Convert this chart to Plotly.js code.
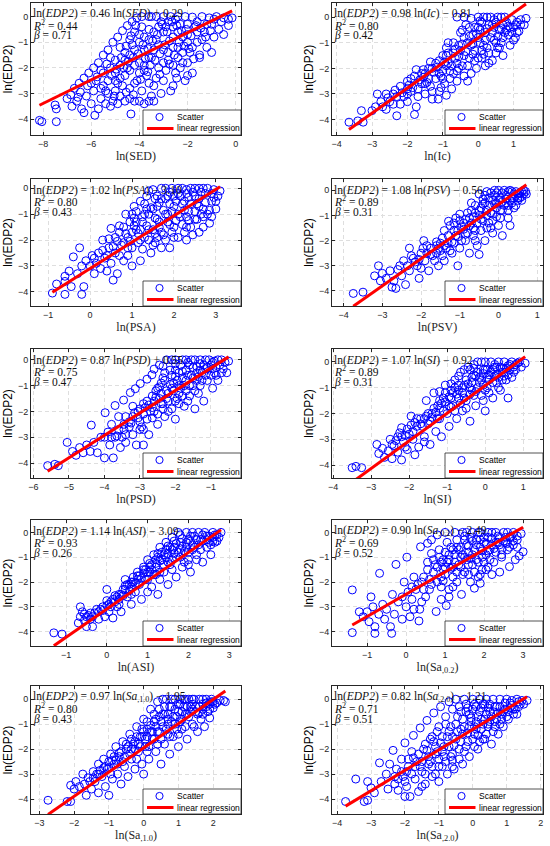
<!DOCTYPE html>
<html><head><meta charset="utf-8">
<script src="https://cdn.plot.ly/plotly-3.0.1.min.js"></script>
<style>html,body{margin:0;padding:0;background:#fff}#chart{width:550px;height:846px}</style>
</head><body><div id="chart"></div>
<script>
// ---------- data ----------
const SED = [[-8.15,-4.05],[-8.05,-4.1],[-7.45,-4.1],[-7.5,-3.45],[-7.45,-3.6],[-4.35,-3.8],[-5.85,-3.85],
[-7.0,-3.2],[-6.8,-3.5],[-6.6,-3.3],[-6.4,-3.6],[-6.3,-3.75],[-6.2,-3.1],[-6.0,-3.4],[-5.9,-2.9],[-5.7,-3.6],[-5.6,-3.2],[-5.5,-2.7],[-5.4,-3.4],[-5.3,-3.0],[-5.2,-3.5],[-5.1,-3.3],[-5.0,-2.9],[-4.9,-3.4],[-4.8,-3.1],[-4.6,-3.3],[-4.4,-3.2],[-4.2,-3.3],[-4.0,-3.3],[-3.8,-3.4],[-3.6,-3.3],[-3.4,-3.3],[-3.5,-3.1],
[-6.7,-2.8],[-6.5,-2.6],[-6.3,-2.4],[-6.1,-2.2],[-5.9,-2.0],[-5.7,-1.8],[-5.5,-1.5],[-5.3,-1.3],[-5.1,-1.0],[-4.9,-0.8],[-4.7,-0.55],[-4.5,-0.35],[-4.3,-0.2],[-4.1,-0.05],[-3.9,0],[-3.6,0],[-3.3,0],[-3.0,0],[-2.7,0],[-2.4,0],[-2.1,0],[-1.8,-0.02],[-1.4,0],[-1.1,-0.05],[-0.8,0],[-0.5,-0.05],[-0.3,-0.1],[-0.15,-0.05],
[-5.8,-2.5],[-5.5,-2.2],[-5.2,-2.0],[-5.0,-1.7],[-4.8,-2.4],[-4.6,-1.4],[-4.5,-2.0],[-4.3,-1.1],[-4.2,-2.6],[-4.0,-0.7],[-4.0,-1.8],[-3.8,-1.3],[-3.7,-2.3],[-3.6,-0.5],[-3.5,-1.6],[-3.4,-2.7],[-3.3,-0.9],[-3.2,-2.0],[-3.0,-1.3],[-3.0,-2.5],[-2.9,-0.4],[-2.8,-1.7],[-2.7,-2.9],[-2.6,-0.8],[-2.5,-2.2],[-2.4,-1.2],[-2.3,-0.3],[-2.2,-1.8],[-2.1,-2.5],[-2.0,-0.7],[-1.9,-1.4],[-1.8,-2.2],[-1.7,-0.4],[-1.6,-1.0],[-1.5,-1.6],[-1.3,-0.6],[-1.2,-1.2],[-1.0,-0.3],[-1.0,-1.4],[-0.9,-0.8],[-0.7,-0.5],[-0.5,-0.7],[-0.3,-0.35],[-4.7,-2.7],[-5.0,-2.5],[-3.9,-2.9],[-3.1,-3.0],[-2.6,-2.7],[-2.0,-2.3],[-1.5,-1.5],
[-5.6,-2.8],[-5.3,-2.5],[-5.0,-2.2],[-4.8,-1.9],[-4.6,-1.7],[-4.4,-1.5],[-4.2,-1.3],[-4.0,-1.0],[-3.8,-0.8],[-3.6,-0.9],[-3.4,-0.6],[-3.2,-0.4],[-3.0,-0.6],[-2.8,-0.2],[-2.6,-0.4],[-2.4,-0.6],[-2.2,-0.8],[-2.0,-1.0],[-1.8,-1.2],[-1.6,-0.6],[-1.4,-0.9],[-1.2,-0.3],[-4.6,-2.3],[-4.4,-2.1],[-4.2,-1.9],[-4.0,-2.2],[-3.8,-1.9],[-3.6,-1.6],[-3.4,-1.3],[-3.2,-1.1],[-3.0,-1.8],[-2.8,-1.4],[-2.6,-1.2],[-2.4,-1.6],[-2.2,-1.4],[-2.0,-1.8],[-3.6,-2.6],[-3.3,-2.4],[-2.9,-2.1],[-2.6,-1.9],[-2.3,-2.0],[-4.4,-2.8],[-4.1,-2.5],[-3.8,-2.1],[-5.4,-2.9],[-4.9,-2.6],[-3.5,0],[-3.1,-0.2],[-2.5,-0.1],[-2.0,-0.3],[-1.6,-0.2],[-0.6,-0.2],[-0.9,-0.1],[-3.9,-0.4],[-4.2,-0.6],[-4.4,-0.9],[-4.8,-1.2],[-5.2,-1.6],[-5.6,-2.1],[-6.0,-2.6]];
const SED_core = [[-4.95,-2.05],[-4.75,-1.6],[-4.55,-1.15],[-4.35,-0.75],[-4.15,-0.35],[-4.65,-2.0],[-4.45,-1.75],[-4.25,-1.6],[-4.05,-1.45],[-3.85,-1.1],[-3.65,-1.25],[-3.45,-0.95],[-3.25,-0.7],[-3.05,-0.3],[-2.85,-0.6],[-2.65,-0.2],[-2.45,-0.35],[-2.25,-0.55],[-2.05,-0.5],[-1.85,-0.75],[-1.65,-0.35],[-1.45,-0.45],[-1.25,-0.8],[-1.05,-0.55],[-3.75,-1.65],[-3.55,-1.9],[-3.35,-1.7],[-3.15,-1.45],[-2.95,-1.1],[-2.75,-0.95],[-2.55,-1.5],[-2.35,-1.0],[-2.15,-1.15],[-1.95,-1.25],[-3.95,-2.45],[-3.65,-2.15],[-3.15,-2.25],[-2.75,-1.85],[-2.45,-2.4],[-1.75,-1.65],[-5.15,-2.3],[-5.35,-1.85],[-5.75,-2.35],[-6.15,-2.7],[-6.45,-2.95],[-6.55,-3.15],[-6.85,-3.05],[-5.05,-3.1],[-4.55,-2.95],[-4.25,-3.05]];

const IC = [[-3.65,-4.1],[-3.4,-4.05],[-3.25,-4.1],[-3.3,-3.65],[-3.0,-3.65],[-2.9,-3.5],[-2.75,-3.3],[-2.85,-3.0],[-2.6,-3.6],[-2.5,-3.3],[-2.4,-3.0],[-2.3,-3.85],[-2.2,-3.4],[-2.2,-2.7],[-2.1,-3.1],[-2.0,-2.5],[-1.9,-2.9],[-1.8,-3.8],[-1.8,-2.3],[-1.75,-3.5],[-1.7,-3.1],[-1.6,-2.6],[-1.5,-2.2],[-1.5,-3.0],[-1.4,-2.0],[-1.35,-2.7],[-1.3,-3.2],[-1.2,-1.8],[-1.2,-2.4],[-1.1,-2.9],[-1.0,-1.5],[-1.0,-2.1],[-0.95,-2.6],[-0.9,-1.2],[-0.85,-1.8],[-0.8,-2.4],[-0.75,-2.8],[-0.7,-1.0],[-0.65,-1.6],[-0.6,-2.1],[-0.5,-0.6],[-0.5,-1.3],[-0.45,-1.9],[-0.4,-2.3],[-0.35,-0.3],[-0.3,-1.0],[-0.25,-1.6],[-0.2,-0.05],[-0.15,-0.7],[-0.1,-1.3],[-0.05,-2.0],[0.0,0],[0.0,-0.4],[0.05,-1.0],[0.1,-1.6],[0.15,0],[0.2,-0.6],[0.25,-1.2],[0.3,-1.8],[0.35,0],[0.4,-0.3],[0.45,-0.9],[0.5,-1.4],[0.55,0],[0.6,-0.5],[0.65,-1.0],[0.7,-1.5],[0.75,0],[0.8,-0.2],[0.85,-0.7],[0.9,-1.1],[0.95,-0.1],[1.0,-0.4],[1.05,-0.8],[1.1,-0.2],[1.15,-0.55],[1.2,-0.1],[1.3,-0.3],[1.35,-0.05],[-1.13,-3.2],[-0.9,-3.05],[-1.55,-2.35],[-2.0,-3.3],[-2.6,-3.0],[-0.6,-2.5],[0.2,-1.9],[-0.2,-2.2],
[-2.7,-3.5],[-2.4,-3.4],[-2.3,-3.1],[-2.0,-2.8],[-1.9,-2.4],[-1.7,-2.8],[-1.6,-2.2],[-1.4,-2.4],[-1.3,-2.0],[-1.1,-2.2],[-1.1,-1.7],[-0.9,-1.9],[-0.9,-1.5],[-0.8,-2.1],[-0.7,-1.4],[-0.6,-1.8],[-0.55,-1.1],[-0.4,-1.5],[-0.4,-0.8],[-0.3,-1.9],[-0.2,-1.1],[-0.1,-0.4],[-0.1,-1.7],[0.0,-0.8],[0.1,-0.2],[0.1,-1.3],[0.2,-0.9],[0.3,-0.3],[0.3,-1.4],[0.4,-0.6],[0.5,-1.0],[0.5,-0.2],[0.6,-1.2],[0.7,-0.3],[0.7,-0.8],[0.8,-0.5],[0.9,-0.4],[1.0,-0.9],[1.1,-0.6],[1.2,-0.3],[-1.5,-2.6],[-1.0,-2.4],[-0.3,-2.5],[0.0,-1.6],[0.4,-1.7],[-0.6,0],[-0.4,0],[0.25,0],[0.65,0],[-2.0,-3.0],[-1.3,-2.9],[-0.7,-2.2]];
const IC_core = [[-2.55,-3.15],[-2.35,-2.85],[-2.15,-2.95],[-1.95,-2.65],[-1.85,-2.75],[-1.65,-2.45],[-1.55,-2.05],[-1.45,-2.55],[-1.25,-2.15],[-1.15,-1.95],[-1.05,-2.3],[-0.95,-1.75],[-0.85,-1.4],[-0.75,-1.9],[-0.65,-1.25],[-0.55,-1.55],[-0.45,-1.05],[-0.35,-1.35],[-0.25,-0.75],[-0.15,-1.05],[-0.05,-0.65],[0.05,-0.5],[0.15,-1.1],[0.25,-0.45],[0.35,-0.8],[0.45,-0.4],[0.55,-0.75],[0.65,-0.45],[0.75,-0.6],[0.85,-0.35],[0.95,-0.6],[1.05,-0.3],[-0.25,-0.4],[0.05,-0.15],[0.45,-0.1],[-0.45,-0.5],[-0.85,-1.0],[-1.35,-1.75],[-1.75,-2.05],[-0.15,-1.45],[0.15,-1.45],[0.55,-1.2],[-0.55,-2.0],[-1.05,-2.75]];

const PSA = [[-0.9,-4.05],[-0.6,-4.1],[-0.2,-4.1],[-0.8,-3.7],[-0.6,-3.4],[-0.5,-3.2],[-0.6,-3.6],[-0.45,-3.8],[-0.4,-2.65],[-0.3,-3.3],[-0.25,-2.3],[-0.2,-3.0],[-0.15,-3.8],[-0.1,-2.8],[0.0,-3.0],[0.05,-2.6],[0.1,-3.3],[0.15,-2.9],[0.2,-2.5],[0.25,-3.1],[0.3,-2.0],[0.35,-2.7],[0.4,-3.2],[0.45,-2.3],[0.5,-1.55],[0.5,-2.9],[0.55,-3.55],[0.6,-1.9],[0.6,-2.5],[0.65,-3.3],[0.7,-1.45],[0.75,-2.2],[0.8,-2.8],[0.85,-1.0],[0.9,-1.9],[0.9,-2.6],[0.95,-1.3],[1.0,-2.3],[1.0,-3.0],[1.05,-0.7],[1.1,-1.6],[1.15,-2.1],[1.2,-0.5],[1.2,-2.8],[1.25,-1.3],[1.3,-1.9],[1.35,-0.3],[1.4,-1.0],[1.45,-2.5],[1.5,-0.05],[1.5,-1.6],[1.55,-2.1],[1.6,-0.7],[1.65,-1.3],[1.7,0],[1.75,-1.8],[1.8,-0.4],[1.85,-1.0],[1.9,-2.3],[1.95,0],[2.0,-1.5],[2.0,-0.7],[2.1,-0.2],[2.1,-1.9],[2.15,-1.1],[2.2,0],[2.25,-0.5],[2.3,-1.5],[2.35,-0.9],[2.4,0],[2.45,-1.8],[2.5,-0.3],[2.55,-1.2],[2.6,0],[2.6,-0.7],[2.7,-1.5],[2.75,-0.2],[2.8,0],[2.8,-1.0],[2.85,-1.35],[2.9,-0.5],[2.95,-0.05],[3.0,-0.8],[3.05,-0.3],[3.1,-0.1],[2.3,-2.0],[1.7,-2.3],[2.6,-1.7],
[0.8,-2.1],[1.0,-1.7],[1.1,-1.3],[1.2,-2.0],[1.3,-1.0],[1.4,-1.6],[1.5,-0.8],[1.5,-2.2],[1.6,-1.2],[1.7,-0.4],[1.7,-1.7],[1.8,-1.0],[1.9,-0.6],[1.9,-1.4],[2.0,-0.3],[2.0,-1.9],[2.1,-1.0],[2.2,-0.6],[2.2,-1.4],[2.3,-0.2],[2.3,-1.1],[2.4,-0.6],[2.4,-1.5],[2.5,-0.9],[2.5,-1.2],[2.6,-0.4],[2.7,-0.8],[2.7,-1.1],[2.9,-0.2],[2.9,-1.1],[3.0,-0.5],[1.2,-1.6],[0.9,-2.3],[0.7,-2.6],[1.4,-2.0],[1.6,-1.9],[1.8,-2.0],[1.3,-0.6],[1.1,-0.9],[1.4,-0.1],[1.6,-0.3],[1.8,0],[2.1,0],[2.5,0],[2.7,0],[1.0,-1.0],[0.7,-1.7],[0.4,-2.6],[0.3,-2.4],[0.1,-2.7]];
const PSA_core = [[0.65,-2.05],[0.85,-1.75],[0.95,-2.05],[1.05,-1.45],[1.15,-1.75],[1.25,-1.1],[1.35,-1.45],[1.45,-0.75],[1.55,-1.15],[1.65,-0.55],[1.65,-1.5],[1.75,-0.85],[1.85,-0.3],[1.85,-1.3],[1.95,-0.9],[2.05,-0.5],[2.05,-1.25],[2.15,-0.3],[2.25,-0.85],[2.35,-0.35],[2.35,-1.25],[2.45,-0.15],[2.55,-0.6],[2.65,-0.15],[2.65,-1.0],[2.75,-0.55],[2.85,-0.85],[2.95,-0.35],[1.25,-2.35],[1.55,-1.75],[1.95,-1.7],[2.25,-1.7],[1.05,-1.15],[0.8,-1.5],[1.35,-0.8],[1.55,-0.4],[1.9,-0.15],[2.3,-0.05],[0.55,-2.25],[0.45,-1.95]];

const PSV = [[-3.75,-4.1],[-3.5,-4.05],[-3.1,-3.0],[-3.2,-3.4],[-3.05,-3.6],[-3.0,-3.3],[-2.9,-3.5],[-2.8,-3.2],[-2.75,-3.85],[-2.7,-3.6],[-2.6,-3.15],[-2.5,-3.4],[-2.45,-2.8],[-2.4,-3.75],[-2.3,-2.3],[-2.3,-3.2],[-2.2,-2.7],[-2.1,-3.0],[-2.05,-3.5],[-2.0,-2.5],[-1.9,-2.8],[-1.93,-2.0],[-1.8,-3.2],[-1.75,-2.3],[-1.7,-2.6],[-1.6,-2.05],[-1.55,-3.0],[-1.5,-2.4],[-1.4,-1.6],[-1.4,-2.8],[-1.3,-2.1],[-1.25,-1.4],[-1.2,-2.5],[-1.1,-1.8],[-1.05,-3.0],[-1.0,-1.2],[-1.0,-2.3],[-0.9,-1.55],[-0.85,-2.0],[-0.8,-0.9],[-0.75,-2.5],[-0.7,-1.3],[-0.65,-1.8],[-0.6,-0.6],[-0.55,-2.2],[-0.5,-1.0],[-0.45,-1.6],[-0.4,-0.35],[-0.35,-2.0],[-0.3,-0.8],[-0.25,-1.3],[-0.2,-0.1],[-0.15,-1.7],[-0.1,-0.55],[-0.05,-1.05],[0.0,0],[0.0,-1.4],[0.05,-0.3],[0.1,-0.8],[0.15,0],[0.2,-0.5],[0.25,-1.1],[0.3,0],[0.35,-0.3],[0.4,-0.7],[0.45,-0.05],[0.5,-0.4],[0.55,-0.1],[0.6,-0.25],[0.65,0],[0.7,-0.05],[0.72,-0.15],[-1.29,-1.23],[-1.6,-2.2],[-2.65,-3.9],[0.3,-1.4],[-0.5,-2.55],[0.1,-1.8],
[-2.35,-3.0],[-2.15,-2.85],[-2.0,-3.1],[-1.85,-2.5],[-1.65,-2.8],[-1.5,-2.1],[-1.45,-2.6],[-1.3,-1.8],[-1.25,-2.4],[-1.15,-2.1],[-1.05,-1.6],[-0.95,-2.0],[-0.9,-1.3],[-0.8,-1.7],[-0.75,-1.1],[-0.65,-1.5],[-0.6,-0.9],[-0.55,-1.3],[-0.45,-0.7],[-0.4,-1.2],[-0.35,-0.5],[-0.3,-1.5],[-0.25,-0.3],[-0.2,-0.9],[-0.15,-1.2],[-0.1,-0.2],[-0.05,-0.7],[0.0,-0.4],[0.05,-1.1],[0.1,-0.1],[0.15,-0.6],[0.2,-0.2],[0.25,-0.8],[0.3,-0.4],[0.35,-0.05],[0.4,-0.3],[0.45,-0.6],[0.5,-0.15],[0.55,-0.3],[0.6,-0.05],[-0.1,0],[-0.3,-0.05],[-0.5,-0.15],[-0.7,-0.5],[-1.0,-0.95],[-1.15,-1.3],[-1.6,-2.5],[-1.95,-2.3]];
const PSV_core = [[-2.55,-3.0],[-2.25,-2.6],[-2.05,-2.75],[-1.85,-2.2],[-1.75,-2.55],[-1.55,-2.3],[-1.45,-1.9],[-1.35,-2.3],[-1.2,-2.05],[-1.15,-1.6],[-1.05,-1.85],[-0.95,-1.45],[-0.85,-1.15],[-0.85,-1.75],[-0.75,-1.4],[-0.65,-1.05],[-0.6,-1.6],[-0.5,-0.8],[-0.45,-1.15],[-0.4,-0.55],[-0.3,-1.0],[-0.25,-0.6],[-0.15,-0.4],[-0.15,-0.95],[-0.05,-0.5],[0.05,-0.8],[0.1,-0.45],[0.2,-0.35],[0.25,-0.6],[0.35,-0.5],[0.4,-0.15],[0.5,-0.3],[0.6,-0.4],[0.65,-0.15],[-0.05,-0.1],[0.25,-0.05],[-0.35,-0.2],[-0.7,-0.8],[-1.1,-1.1],[-1.4,-2.2],[-0.6,-2.0],[-0.2,-1.5]];

const PSD = [[-5.6,-4.1],[-5.4,-4.05],[-5.3,-4.1],[-5.05,-3.2],[-4.9,-3.55],[-4.8,-3.7],[-4.7,-3.4],[-4.6,-3.6],[-4.5,-3.3],[-4.4,-3.55],[-4.37,-2.53],[-4.3,-3.2],[-4.2,-3.6],[-4.1,-3.0],[-3.98,-2.05],[-4.0,-3.8],[-3.9,-2.8],[-3.85,-3.3],[-3.8,-2.5],[-3.75,-3.8],[-3.7,-1.77],[-3.7,-3.0],[-3.6,-2.2],[-3.55,-3.4],[-3.46,-1.56],[-3.45,-2.7],[-3.4,-3.2],[-3.3,-2.4],[-3.27,-1.27],[-3.2,-2.9],[-3.13,-1.12],[-3.1,-3.3],[-3.05,-2.0],[-2.99,-0.92],[-2.95,-2.6],[-2.9,-1.7],[-2.8,-0.75],[-2.8,-2.3],[-2.75,-2.9],[-2.66,-0.58],[-2.65,-1.4],[-2.6,-0.36],[-2.6,-2.0],[-2.5,-1.1],[-2.5,-2.5],[-2.45,-0.2],[-2.4,-1.7],[-2.35,-0.7],[-2.3,-2.2],[-2.25,0],[-2.2,-1.3],[-2.15,-0.4],[-2.1,-1.9],[-2.05,-0.9],[-2.0,0],[-2.0,-2.3],[-1.95,-1.5],[-1.9,-0.5],[-1.85,-1.1],[-1.8,0],[-1.75,-1.8],[-1.7,-0.8],[-1.6,-0.2],[-1.6,-1.4],[-1.55,0],[-1.5,-1.0],[-1.45,-1.9],[-1.4,-0.5],[-1.35,-1.3],[-1.3,0],[-1.25,-0.8],[-1.2,-1.6],[-1.1,-0.3],[-1.05,0],[-1.0,-0.6],[-0.95,-1.1],[-0.9,-0.05],[-0.85,-0.3],[-0.8,-0.8],[-0.7,0],[-0.65,-0.35],[-0.6,-0.1],[-0.55,-0.5],[-0.5,-0.05],[-4.0,-3.0],[-2.9,-3.3],
[-3.8,-3.0],[-3.6,-2.7],[-3.5,-3.0],[-3.3,-2.6],[-3.2,-2.2],[-3.0,-2.4],[-3.0,-1.9],[-2.9,-2.1],[-2.8,-1.6],[-2.7,-2.0],[-2.6,-1.6],[-2.55,-1.2],[-2.45,-1.5],[-2.4,-0.9],[-2.35,-1.9],[-2.3,-0.5],[-2.25,-1.2],[-2.2,-1.6],[-2.1,-0.6],[-2.1,-1.1],[-2.0,-0.4],[-1.95,-0.8],[-1.9,-1.3],[-1.85,-0.2],[-1.8,-0.7],[-1.7,-0.4],[-1.7,-1.2],[-1.65,-1.6],[-1.55,-0.6],[-1.5,-0.3],[-1.45,-1.2],[-1.4,-0.8],[-1.3,-0.4],[-1.3,-1.0],[-1.2,-0.2],[-1.15,-0.6],[-1.0,-0.2],[-0.9,-0.5],[-0.75,-0.2],[-3.4,-2.2],[-3.2,-1.8],[-3.4,-2.9],[-2.9,-2.7],[-2.5,-2.1],[-2.2,-2.0],[-1.9,-1.7],[-2.1,0],[-1.7,0],[-1.45,0],[-1.15,0],[-0.8,0]];
const PSD_core = [[-3.65,-2.95],[-3.45,-2.5],[-3.25,-2.45],[-3.15,-2.05],[-3.05,-2.25],[-2.85,-1.85],[-2.75,-1.75],[-2.65,-1.85],[-2.55,-1.45],[-2.45,-1.05],[-2.4,-1.3],[-2.3,-0.8],[-2.25,-1.5],[-2.15,-0.95],[-2.05,-1.2],[-2.0,-0.65],[-1.9,-1.0],[-1.8,-0.45],[-1.75,-1.0],[-1.65,-0.6],[-1.6,-1.0],[-1.5,-0.7],[-1.4,-0.25],[-1.35,-0.65],[-1.25,-0.5],[-1.15,-0.35],[-1.1,-0.8],[-0.95,-0.35],[-0.85,-0.6],[-0.7,-0.5],[-2.35,-0.25],[-2.0,-0.15],[-1.65,-0.1],[-1.3,-0.15],[-0.95,-0.1],[-2.65,-2.25],[-2.35,-1.7],[-2.0,-1.6],[-1.8,-1.4],[-3.0,-2.7]];

const SI = [[-3.5,-4.1],[-3.4,-4.05],[-3.25,-4.1],[-2.85,-3.2],[-2.8,-3.55],[-2.7,-3.35],[-2.65,-3.7],[-2.55,-3.45],[-2.5,-3.0],[-2.45,-3.75],[-2.4,-3.25],[-2.3,-3.5],[-2.2,-2.55],[-2.2,-3.8],[-2.15,-3.1],[-2.05,-3.4],[-2.0,-2.8],[-1.95,-2.1],[-1.9,-3.0],[-1.85,-3.6],[-1.8,-2.5],[-1.75,-3.3],[-1.7,-2.2],[-1.6,-2.9],[-1.55,-1.5],[-1.5,-2.4],[-1.45,-3.2],[-1.4,-2.0],[-1.35,-1.2],[-1.3,-2.7],[-1.25,-1.7],[-1.2,-2.2],[-1.15,-2.9],[-1.1,-1.4],[-1.05,-0.9],[-1.0,-2.0],[-0.95,-2.5],[-0.9,-1.1],[-0.85,-1.7],[-0.8,-0.7],[-0.75,-2.2],[-0.7,-1.4],[-0.65,-0.4],[-0.6,-1.9],[-0.55,-0.9],[-0.5,-1.5],[-0.45,-0.2],[-0.4,-2.3],[-0.35,-1.1],[-0.3,-0.5],[-0.25,-1.7],[-0.2,0],[-0.15,-0.8],[-0.1,-1.3],[-0.05,-0.3],[0.0,0],[0.0,-1.9],[0.05,-1.0],[0.1,-0.5],[0.15,0],[0.2,-1.4],[0.25,-0.2],[0.3,-0.8],[0.35,0],[0.4,-1.1],[0.45,-0.4],[0.5,0],[0.55,-0.7],[0.6,-0.15],[0.7,0],[0.75,-0.4],[0.8,-0.1],[0.9,0],[0.95,-0.2],[1.05,-0.05],[-2.3,-2.9],[-0.4,-0.3],[0.6,-1.4],
[-2.35,-3.05],[-2.2,-2.9],[-2.05,-2.6],[-1.9,-2.7],[-1.8,-2.2],[-1.65,-2.5],[-1.55,-2.1],[-1.45,-2.3],[-1.35,-1.8],[-1.25,-2.2],[-1.2,-1.5],[-1.1,-1.9],[-1.05,-1.2],[-0.95,-1.7],[-0.9,-1.4],[-0.8,-1.0],[-0.8,-1.9],[-0.7,-0.9],[-0.65,-1.6],[-0.6,-1.2],[-0.5,-0.7],[-0.5,-1.8],[-0.4,-1.0],[-0.35,-0.6],[-0.3,-1.3],[-0.2,-0.4],[-0.2,-1.0],[-0.1,-0.7],[-0.05,-1.5],[0.0,-0.3],[0.05,-0.6],[0.1,-1.2],[0.15,-0.4],[0.2,-0.8],[0.25,-0.1],[0.3,-0.5],[0.35,-1.0],[0.4,-0.2],[0.45,-0.7],[0.5,-0.4],[0.6,-0.5],[0.65,-0.3],[0.7,-0.6],[0.8,-0.3],[0.85,-0.05],[-0.1,0],[-0.3,-0.1],[-0.55,-0.3],[-1.6,-3.1],[-2.1,-3.3]];
const SI_core = [[-2.45,-3.2],[-2.25,-2.75],[-2.1,-2.85],[-1.95,-2.45],[-1.85,-2.35],[-1.7,-2.4],[-1.6,-2.2],[-1.5,-2.0],[-1.4,-2.15],[-1.3,-1.95],[-1.2,-1.8],[-1.15,-1.6],[-1.05,-1.55],[-0.95,-1.35],[-0.9,-1.75],[-0.85,-1.2],[-0.75,-1.25],[-0.7,-1.1],[-0.6,-1.0],[-0.55,-1.4],[-0.45,-0.85],[-0.4,-1.25],[-0.35,-0.8],[-0.25,-0.55],[-0.25,-1.15],[-0.15,-0.6],[-0.05,-0.45],[-0.05,-0.9],[0.05,-0.3],[0.1,-0.7],[0.2,-0.3],[0.25,-0.55],[0.3,-0.2],[0.35,-0.6],[0.45,-0.25],[0.5,-0.55],[0.55,-0.25],[0.65,-0.1],[0.75,-0.2],[-0.7,-0.55],[-0.9,-0.85],[-1.2,-1.15],[-0.3,-0.25],[0.0,-1.1]];

const ASI = [[-1.3,-4.05],[-1.1,-4.1],[-0.65,-3.0],[-0.65,-3.4],[-0.7,-3.65],[-0.6,-3.2],[-0.55,-3.55],[-0.5,-3.8],[-0.45,-3.35],[-0.4,-3.5],[-0.35,-3.8],[-0.3,-3.25],[-0.2,-3.5],[-0.15,-3.1],[-0.05,-3.4],[0.0,-2.3],[0.0,-2.95],[0.05,-3.2],[0.1,-2.8],[0.15,-3.45],[0.2,-2.55],[0.25,-3.0],[0.3,-2.7],[0.35,-3.2],[0.4,-2.3],[0.45,-1.9],[0.5,-2.6],[0.55,-2.1],[0.6,-2.9],[0.65,-1.8],[0.7,-2.4],[0.75,-1.6],[0.8,-2.1],[0.85,-2.7],[0.9,-1.4],[0.95,-1.9],[1.0,-2.4],[1.0,-1.1],[1.05,-1.6],[1.1,-2.2],[1.15,-0.9],[1.2,-1.4],[1.25,-2.5],[1.3,-0.6],[1.3,-1.9],[1.35,-1.1],[1.4,-1.6],[1.45,-0.4],[1.5,-0.85],[1.5,-2.1],[1.55,-1.3],[1.6,-0.2],[1.65,-0.6],[1.7,-1.8],[1.7,-1.0],[1.75,0],[1.8,-0.4],[1.85,-1.4],[1.9,-0.75],[1.95,0],[2.0,-1.1],[2.0,-0.3],[2.05,-1.6],[2.1,0],[2.15,-0.6],[2.2,-0.9],[2.25,0],[2.3,-0.3],[2.35,-1.2],[2.4,0],[2.45,-0.6],[2.5,-0.15],[2.55,-0.9],[2.6,0],[2.65,-0.4],[2.7,-0.1],[2.75,-0.2],[2.8,0],
[-0.5,-3.4],[-0.35,-3.4],[-0.2,-3.2],[-0.1,-3.0],[0.05,-2.9],[0.15,-2.7],[0.25,-2.6],[0.35,-2.5],[0.45,-2.3],[0.5,-2.1],[0.6,-2.2],[0.65,-2.0],[0.75,-1.9],[0.8,-1.75],[0.9,-1.65],[0.95,-1.5],[1.05,-1.4],[1.1,-1.3],[1.15,-1.7],[1.2,-1.1],[1.25,-1.0],[1.35,-0.8],[1.4,-1.3],[1.45,-0.7],[1.55,-0.6],[1.6,-1.1],[1.65,-0.35],[1.75,-0.8],[1.8,-0.1],[1.85,-0.55],[1.95,-0.4],[2.0,-0.8],[2.05,-0.15],[2.1,-0.5],[2.2,-0.3],[2.3,-0.7],[2.35,-0.1],[2.45,-0.3],[2.55,-0.5],[2.6,-0.2],[2.7,-0.35],[1.6,-1.5],[1.3,-1.6],[1.0,-1.9],[2.2,-1.1],[1.9,-1.2],[0.6,-2.5],[0.3,-2.9]];
const ASI_core = [[-0.55,-3.3],[-0.4,-3.25],[-0.25,-3.1],[-0.1,-3.15],[0.0,-2.75],[0.1,-3.0],[0.2,-2.8],[0.3,-2.5],[0.4,-2.55],[0.45,-2.15],[0.55,-2.35],[0.6,-2.0],[0.7,-2.05],[0.75,-1.75],[0.85,-1.85],[0.9,-1.5],[1.0,-1.6],[1.05,-1.25],[1.1,-1.5],[1.2,-1.25],[1.25,-0.85],[1.3,-1.15],[1.4,-0.9],[1.45,-1.0],[1.5,-0.55],[1.6,-0.7],[1.65,-0.85],[1.7,-0.45],[1.8,-0.65],[1.85,-0.25],[1.95,-0.6],[2.05,-0.35],[2.1,-0.7],[2.15,-0.15],[2.25,-0.5],[2.35,-0.35],[2.45,-0.15],[2.5,-0.4],[2.6,-0.35],[2.65,-0.1],[1.5,-1.2],[1.8,-1.0],[2.0,-1.3],[1.2,-1.7]];

const SA02 = [[-1.38,-4.04],[-1.38,-2.32],[-1.2,-3.2],[-1.1,-3.4],[-1.0,-3.2],[-0.95,-3.6],[-0.9,-2.6],[-0.85,-3.0],[-0.8,-3.8],[-0.8,-4.07],[-0.7,-3.3],[-0.68,-1.65],[-0.6,-2.9],[-0.55,-3.5],[-0.5,-3.1],[-0.4,-3.8],[-0.35,-2.5],[-0.3,-3.3],[-0.37,-4.07],[-0.26,-1.29],[-0.2,-2.8],[-0.1,-3.5],[-0.05,-2.0],[0.0,-3.0],[0.02,-1.0],[0.05,-2.4],[0.1,-3.4],[0.15,-2.7],[0.2,-1.8],[0.25,-2.3],[0.33,-3.57],[0.37,-0.58],[0.35,-3.1],[0.4,-2.0],[0.55,-0.44],[0.5,-2.6],[0.55,-1.5],[0.65,-0.3],[0.6,-2.3],[0.65,-0.85],[0.77,-3.19],[0.75,-1.3],[0.8,-0.1],[0.8,-2.0],[0.85,-0.7],[0.9,-2.7],[0.95,-1.1],[1.0,0],[1.0,-1.7],[1.05,-0.4],[1.1,-2.3],[1.1,-0.9],[1.03,-2.95],[1.2,-1.4],[1.25,0],[1.3,-0.6],[1.3,-2.0],[1.42,-2.5],[1.4,-1.0],[1.45,0],[1.5,-1.6],[1.5,-0.3],[1.6,-0.8],[1.65,-2.0],[1.7,0],[1.7,-1.3],[1.8,-0.5],[1.85,-1.8],[1.9,0],[1.95,-1.0],[2.0,-0.2],[2.05,-1.5],[2.1,0],[2.15,-0.7],[2.2,-1.7],[2.25,-1.2],[2.3,0],[2.35,-0.4],[2.4,-1.6],[2.45,-0.9],[2.5,0],[2.55,-0.2],[2.65,-1.38],[2.65,-0.6],[2.75,0],[2.8,-1.1],[2.85,-0.3],[2.9,-0.95],[2.95,-0.05],[3.0,-0.78],[1.9,-2.05],[1.75,-2.25],
[0.3,-2.1],[0.45,-1.8],[0.6,-1.9],[0.7,-1.6],[0.8,-1.4],[0.9,-1.8],[0.9,-1.2],[1.0,-0.8],[1.0,-1.4],[1.1,-1.1],[1.15,-0.6],[1.2,-1.8],[1.25,-0.9],[1.3,-0.3],[1.35,-1.3],[1.4,-0.6],[1.45,-1.7],[1.5,-1.0],[1.55,-0.5],[1.6,-1.3],[1.65,-0.2],[1.7,-0.9],[1.75,-1.6],[1.8,-0.3],[1.85,-1.2],[1.9,-0.6],[1.95,-1.5],[2.0,-0.4],[2.05,-0.9],[2.1,-0.2],[2.15,-1.1],[2.2,-0.5],[2.3,-0.8],[2.35,-0.15],[2.4,-0.5],[2.45,-1.0],[2.55,-0.4],[2.6,-0.7],[2.7,-0.15],[2.75,-0.5],[2.85,-0.6],[1.55,0],[1.85,0],[2.2,0],[2.6,0],[0.9,-2.2],[1.1,-2.6],[0.4,-2.8],[-0.1,-2.6],[0.2,-3.1]];
const SA02_core = [[0.55,-1.2],[0.7,-1.1],[0.85,-1.0],[0.95,-1.5],[1.05,-1.2],[1.15,-1.45],[1.2,-0.7],[1.25,-1.2],[1.35,-0.7],[1.4,-1.4],[1.45,-0.9],[1.5,-0.15],[1.55,-1.1],[1.6,-0.55],[1.65,-1.05],[1.7,-0.35],[1.75,-0.7],[1.8,-1.1],[1.9,-0.3],[1.95,-0.75],[2.0,-1.2],[2.05,-0.45],[2.1,-0.75],[2.2,-0.25],[2.25,-0.65],[2.3,-0.4],[2.4,-0.2],[2.45,-0.7],[2.5,-0.35],[2.6,-0.45],[2.65,-0.2],[2.75,-0.35],[2.85,-0.15],[1.3,-1.6],[1.6,-1.7],[1.9,-1.7],[2.1,-1.4],[0.65,-2.1],[0.95,-1.95],[1.2,-2.2],[0.15,-2.2],[0.45,-2.3]];

const SA10 = [[-2.75,-4.05],[-2.2,-4.1],[-2.1,-4.1],[-2.1,-3.45],[-2.0,-3.6],[-1.95,-3.3],[-1.85,-3.5],[-1.75,-3.0],[-1.7,-3.4],[-1.65,-3.85],[-1.6,-3.15],[-1.5,-3.6],[-1.45,-2.9],[-1.4,-3.3],[-1.3,-3.75],[-1.3,-2.6],[-1.2,-3.1],[-1.15,-2.4],[-1.1,-3.5],[-1.05,-2.8],[-1.0,-3.85],[-0.95,-2.2],[-0.9,-3.2],[-0.85,-2.6],[-0.8,-1.9],[-0.75,-3.0],[-0.7,-2.3],[-0.65,-3.4],[-0.6,-1.7],[-0.55,-2.7],[-0.5,-2.0],[-0.45,-3.1],[-0.4,-1.4],[-0.35,-2.4],[-0.3,-1.8],[-0.25,-2.8],[-0.2,-1.1],[-0.15,-2.1],[-0.1,-1.5],[-0.05,-2.6],[0.0,-0.8],[0.0,-3.0],[0.05,-1.9],[0.1,-1.2],[0.15,-2.4],[0.2,-0.4],[0.25,-1.6],[0.3,-0.9],[0.35,-2.1],[0.4,-0.1],[0.45,-1.3],[0.5,-2.6],[0.55,-0.6],[0.6,-1.8],[0.65,0],[0.7,-1.0],[0.75,-2.2],[0.8,-0.3],[0.85,-1.5],[0.9,0],[0.95,-0.7],[1.0,-1.9],[1.05,-0.2],[1.1,-1.2],[1.15,0],[1.2,-0.6],[1.25,-1.6],[1.3,0],[1.35,-0.3],[1.4,-1.0],[1.45,0],[1.5,-0.5],[1.55,-1.3],[1.6,0],[1.65,-0.8],[1.7,-0.2],[1.75,-1.1],[1.8,0],[1.85,-0.5],[1.9,-0.75],[1.95,-0.1],[2.0,-0.35],[2.1,-0.15],[2.2,-0.05],[2.3,-0.05],[2.35,-0.1],
[-1.55,-3.3],[-1.35,-3.0],[-1.25,-2.85],[-1.1,-2.7],[-1.0,-2.5],[-0.95,-3.0],[-0.85,-2.3],[-0.75,-2.6],[-0.65,-2.1],[-0.6,-2.5],[-0.5,-1.8],[-0.4,-2.2],[-0.35,-1.6],[-0.25,-2.0],[-0.2,-1.5],[-0.1,-1.9],[-0.05,-1.2],[0.05,-1.6],[0.1,-0.9],[0.15,-1.9],[0.2,-1.3],[0.3,-0.6],[0.3,-1.6],[0.35,-1.1],[0.45,-0.4],[0.5,-0.9],[0.5,-1.6],[0.6,-0.3],[0.65,-1.2],[0.7,-0.6],[0.75,-1.5],[0.8,-0.9],[0.9,-0.4],[0.95,-1.2],[1.0,-0.2],[1.05,-0.9],[1.1,-0.5],[1.2,-1.1],[1.25,-0.3],[1.3,-0.7],[1.4,-0.4],[1.45,-1.1],[1.55,-0.6],[1.6,-0.3],[1.7,-0.6],[1.8,-0.3],[1.9,-0.4],[2.05,-0.2],[0.55,0],[0.8,0],[1.05,0],[1.2,0],[1.4,0],[1.7,0],[1.95,0]];
const SA10_core = [[-1.45,-3.15],[-1.3,-3.0],[-1.15,-2.75],[-1.0,-2.75],[-0.9,-2.45],[-0.8,-2.45],[-0.7,-2.15],[-0.55,-2.3],[-0.45,-1.9],[-0.35,-2.0],[-0.25,-1.7],[-0.15,-1.8],[-0.05,-1.5],[0.0,-1.3],[0.1,-1.5],[0.2,-1.05],[0.25,-1.3],[0.35,-0.8],[0.4,-1.3],[0.45,-0.7],[0.55,-1.1],[0.6,-0.6],[0.7,-0.8],[0.75,-0.3],[0.85,-0.7],[0.9,-1.0],[1.0,-0.5],[1.1,-0.8],[1.15,-0.3],[1.25,-0.6],[1.35,-0.5],[1.4,-0.2],[1.5,-0.3],[1.6,-0.55],[1.7,-0.4],[1.8,-0.15],[1.9,-0.2],[2.0,-0.1],[0.1,-2.1],[-0.2,-2.4],[0.4,-1.8],[0.7,-1.4],[1.0,-1.4]];

const SA20 = [[-3.75,-4.1],[-3.45,-3.2],[-3.2,-4.1],[-3.1,-3.3],[-3.1,-4.05],[-3.0,-3.55],[-2.9,-3.75],[-2.75,-2.55],[-2.7,-3.3],[-2.55,-3.0],[-2.5,-3.6],[-2.45,-2.6],[-2.35,-2.05],[-2.3,-3.4],[-2.25,-2.8],[-2.2,-3.65],[-2.1,-2.4],[-2.05,-3.1],[-2.0,-1.75],[-1.95,-3.5],[-1.9,-2.7],[-1.85,-3.9],[-1.8,-2.1],[-1.75,-1.45],[-1.7,-3.2],[-1.65,-2.5],[-1.6,-3.7],[-1.55,-1.15],[-1.5,-2.9],[-1.45,-2.0],[-1.4,-3.4],[-1.35,-0.85],[-1.3,-2.6],[-1.25,-1.6],[-1.2,-3.1],[-1.15,-0.55],[-1.1,-2.2],[-1.05,-1.3],[-1.0,-3.3],[-0.95,-0.3],[-0.9,-2.7],[-0.85,-1.9],[-0.8,-1.0],[-0.75,-3.0],[-0.7,-0.1],[-0.65,-2.3],[-0.6,-1.5],[-0.55,-2.8],[-0.5,0],[-0.45,-0.7],[-0.4,-2.0],[-0.35,-1.2],[-0.3,-2.6],[-0.25,0],[-0.2,-0.5],[-0.15,-1.7],[-0.1,-2.3],[-0.05,-0.9],[0.0,0],[0.05,-1.4],[0.1,-0.3],[0.15,-2.0],[0.2,0],[0.25,-0.8],[0.3,-1.6],[0.35,-0.2],[0.4,0],[0.45,-1.1],[0.5,-0.5],[0.55,-1.8],[0.6,0],[0.65,-0.9],[0.7,-0.3],[0.75,-1.4],[0.8,0],[0.85,-0.6],[0.9,-1.1],[0.95,-0.15],[1.0,0],[1.05,-0.8],[1.1,-0.35],[1.15,-0.05],[1.2,-0.6],[1.3,0],[1.35,-0.3],[1.45,-0.05],[1.5,-0.2],[1.6,-0.05],[-2.0,-3.9],
[-2.3,-3.1],[-2.1,-2.9],[-2.0,-3.3],[-1.9,-2.4],[-1.8,-3.0],[-1.7,-2.7],[-1.6,-2.2],[-1.5,-2.5],[-1.4,-3.0],[-1.4,-1.8],[-1.3,-2.3],[-1.2,-2.7],[-1.2,-1.5],[-1.1,-1.9],[-1.0,-2.4],[-1.0,-1.1],[-0.9,-1.5],[-0.9,-2.1],[-0.8,-2.5],[-0.8,-0.7],[-0.7,-1.3],[-0.7,-1.9],[-0.6,-0.4],[-0.6,-2.2],[-0.5,-1.0],[-0.5,-1.6],[-0.4,-0.3],[-0.4,-2.4],[-0.3,-0.8],[-0.3,-1.4],[-0.2,-1.9],[-0.2,-0.2],[-0.1,-1.1],[-0.1,-0.6],[0.0,-1.6],[0.0,-0.4],[0.1,-0.9],[0.1,-1.2],[0.2,-0.5],[0.2,-1.7],[0.3,-0.2],[0.3,-1.0],[0.4,-0.6],[0.4,-1.4],[0.5,-0.2],[0.5,-0.9],[0.6,-1.3],[0.6,-0.5],[0.7,-0.8],[0.8,-0.3],[0.8,-1.0],[0.9,-0.5],[1.0,-0.7],[1.1,-0.15],[1.2,-0.4],[1.3,-0.6],[1.4,-0.2],[-1.5,-3.5],[-1.1,-3.0],[-0.6,-2.7]];
const SA20_core = [[-2.2,-3.2],[-1.95,-2.9],[-1.75,-2.35],[-1.55,-2.7],[-1.35,-2.05],[-1.25,-2.5],[-1.15,-1.7],[-1.05,-2.1],[-0.95,-1.75],[-0.85,-2.3],[-0.75,-1.5],[-0.65,-1.1],[-0.55,-1.85],[-0.45,-1.3],[-0.35,-0.5],[-0.35,-1.7],[-0.25,-1.1],[-0.15,-0.35],[-0.15,-1.35],[-0.05,-0.75],[0.05,-1.1],[0.05,-0.2],[0.15,-0.7],[0.15,-1.45],[0.25,-0.35],[0.25,-1.2],[0.35,-0.8],[0.45,-0.35],[0.45,-1.0],[0.55,-0.7],[0.65,-0.3],[0.65,-1.1],[0.75,-0.55],[0.85,-0.8],[0.95,-0.4],[1.05,-0.5],[1.15,-0.25],[1.25,-0.4],[1.35,-0.1],[-0.25,-2.1],[0.05,-1.9],[0.35,-1.6],[-0.6,-2.45],[-1.0,-2.7]];

const scatterSets = [SED.concat(SED_core), IC.concat(IC_core), PSA.concat(PSA_core), PSV.concat(PSV_core),
  PSD.concat(PSD_core), SI.concat(SI_core), ASI.concat(ASI_core), SA02.concat(SA02_core),
  SA10.concat(SA10_core), SA20.concat(SA20_core)];
const predBase = ['SED','Ic','PSA','PSV','PSD','SI','ASI','Sa','Sa','Sa'];
const predSub  = ['','','','','','','',',0.2',',1.0',',2.0'];
const slopes     = [0.46, 0.98, 1.02, 1.08, 0.87, 1.07, 1.14, 0.90, 0.97, 0.82];
const intercepts = [0.29, -0.81, -3.10, -0.56, 0.55, -0.92, -3.09, -2.49, -1.95, -1.21];
const rSquared   = [0.44, 0.80, 0.80, 0.89, 0.75, 0.89, 0.93, 0.69, 0.80, 0.71];
const betas      = [0.71, 0.42, 0.43, 0.31, 0.47, 0.31, 0.26, 0.52, 0.43, 0.51];
const yLabel = 'ln(EDP2)';
const legendNames = ['Scatter', 'linear regression'];

// ---------- layout / style ----------
const W = 550, H = 846;
const colPx = [[31, 241], [332, 543]];
const rowPx = [[3, 135], [179, 306], [349, 478], [520, 646], [686, 814]];
const xRanges = [[-8.5,0.22],[-4.13,1.83],[-1.41,3.6],[-4.3,1.15],[-6.07,-0.15],[-4.03,1.52],[-1.86,3.29],[-1.9,3.51],[-3.24,2.8],[-4.15,2.07]];
const yRanges = [[-4.62,0.53],[-4.6,0.55],[-4.55,0.36],[-4.6,0.45],[-4.58,0.42],[-4.5,0.5],[-4.58,0.5],[-4.58,0.5],[-4.6,0.53],[-4.6,0.53]];
const xDticks = [2,1,1,1,1,1,1,1,1,1];

const axisColor = '#262626';
const blue = '#0000ff', red = '#ff0000';
const sans = 'Liberation Sans, Arial, sans-serif';
const serif = 'Liberation Serif, Times New Roman, serif';

const traces = [];
const layout = {
  width: W, height: H,
  margin: {l: 0, r: 0, t: 0, b: 0},
  paper_bgcolor: '#fff', plot_bgcolor: '#fff',
  showlegend: false,
  annotations: [], shapes: []
};

function subHtml(i) { return predSub[i] ? '<sub>' + predSub[i] + '</sub>' : ''; }
function fmt(v) { return v.toFixed(2); }

scatterSets.forEach((pts, i) => {
  const n = i === 0 ? '' : String(i + 1);
  const col = i % 2, row = Math.floor(i / 2);
  const xd = [colPx[col][0] / W, colPx[col][1] / W];
  const yd = [1 - rowPx[row][1] / H, 1 - rowPx[row][0] / H];
  const pw = colPx[col][1] - colPx[col][0];
  const ph = rowPx[row][1] - rowPx[row][0];
  const xref = 'x' + n + ' domain', yref = 'y' + n + ' domain';

  const xs = pts.map(p => p[0]);
  const ys = pts.map(p => p[1]);
  const xmin = Math.min(...xs), xmax = Math.max(...xs);

  traces.push({
    type: 'scatter', mode: 'markers', x: xs, y: ys,
    xaxis: 'x' + n, yaxis: 'y' + n, name: legendNames[0],
    marker: {symbol: 'circle-open', size: 8, color: blue, line: {width: 1, color: blue}},
    hoverinfo: 'skip'
  });
  traces.push({
    type: 'scatter', mode: 'lines',
    x: [xmin, xmax],
    y: [slopes[i] * xmin + intercepts[i], slopes[i] * xmax + intercepts[i]],
    xaxis: 'x' + n, yaxis: 'y' + n, name: legendNames[1],
    line: {color: red, width: 3},
    hoverinfo: 'skip'
  });

  const common = {
    showline: true, linecolor: axisColor, linewidth: 1, mirror: 'ticks',
    ticks: 'inside', ticklen: 3, tickcolor: axisColor, tickwidth: 1,
    showgrid: true, gridcolor: '#dedede', gridwidth: 1, griddash: '4px,3px',
    zeroline: false,
    tickfont: {family: sans, size: 9, color: axisColor}
  };
  layout['xaxis' + n] = Object.assign({}, common, {
    domain: xd, anchor: 'y' + n, range: xRanges[i], dtick: xDticks[i], tick0: 0,
    title: {text: 'ln(' + predBase[i] + subHtml(i) + ')', font: {family: serif, size: 12, color: axisColor}, standoff: 1}
  });
  layout['yaxis' + n] = Object.assign({}, common, {
    domain: yd, anchor: 'x' + n, range: yRanges[i], dtick: 1, tick0: 0,
    title: {text: yLabel, font: {family: sans, size: 12, color: '#000'}, standoff: 2}
  });

  // legend box (bottom-right of each panel), sized in pixels
  const LW = 98, LH = 25, L = pw - LW;
  layout.shapes.push({type: 'rect', xref, yref, x0: L / pw, x1: 1, y0: 0, y1: LH / ph,
    fillcolor: '#fff', line: {color: axisColor, width: 0.8}, layer: 'above'});
  layout.shapes.push({type: 'circle', xref, yref, xsizemode: 'pixel', ysizemode: 'pixel',
    xanchor: (L + 16.5) / pw, yanchor: 18 / ph, x0: -3.6, x1: 3.6, y0: -3.6, y1: 3.6,
    line: {color: blue, width: 1}, fillcolor: 'rgba(0,0,0,0)', layer: 'above'});
  layout.shapes.push({type: 'line', xref, yref, x0: (L + 4) / pw, x1: (L + 30.5) / pw, y0: 6.5 / ph, y1: 6.5 / ph,
    line: {color: red, width: 3}, layer: 'above'});
  [[legendNames[0], 18], [legendNames[1], 6.5]].forEach(([t, yy]) => {
    layout.annotations.push({xref, yref, x: (L + 32.5) / pw, y: yy / ph, xanchor: 'left', yanchor: 'middle',
      text: t, showarrow: false, borderpad: 0, font: {family: sans, size: 8.5, color: '#000'}});
  });

  const b = intercepts[i];
  const eq = 'ln(<i>EDP2</i>) = ' + fmt(slopes[i]) + ' ln(<i>' + predBase[i] + '</i>' + subHtml(i) + ') ' +
             (b < 0 ? '\u2212 ' : '+ ') + fmt(Math.abs(b));
  const lines = [eq, '<i>R</i><sup>2</sup> = ' + fmt(rSquared[i]), '<i>\u03b2</i> = ' + fmt(betas[i])];
  lines.forEach((t, k) => {
    layout.annotations.push({
      xref, yref, x: 0, y: 1, xanchor: 'left', yanchor: 'middle', xshift: 1, yshift: -11 - 11 * k,
      text: t, showarrow: false, align: 'left', borderpad: 0,
      font: {family: serif, size: 11.5, color: '#111'}
    });
  });
});

Plotly.newPlot('chart', traces, layout, {staticPlot: true, displayModeBar: false});
</script>
</body></html>
